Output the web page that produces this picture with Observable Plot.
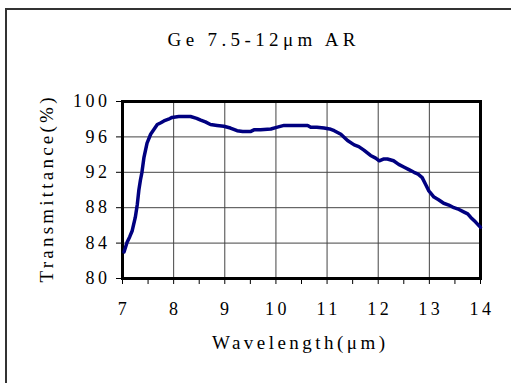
<!DOCTYPE html>
<html>
<head>
<meta charset="utf-8">
<script src="https://cdn.jsdelivr.net/npm/d3@7"></script>
<script src="https://cdn.jsdelivr.net/npm/@observablehq/plot@0.6"></script>
<style>
  html, body { margin: 0; padding: 0; background: #fff; overflow: hidden; width: 511px; height: 383px; }
  #wrap { position: relative; width: 511px; height: 383px; }
  #outer { position: absolute; left: 5px; top: 8px; width: 600px; height: 500px;
           border-left: 2px solid #333; border-top: 2px solid #333; box-sizing: border-box; }
  #chart { position: absolute; left: 0; top: 0; }
  #chart svg [aria-label$="tick label"] text { letter-spacing: 3.5px; }
</style>
</head>
<body>
<div id="wrap"><div id="outer"></div><div id="chart"></div></div>
<script>
const wavelength = [7.03,7.09,7.14,7.19,7.25,7.29,7.32,7.35,7.38,7.42,7.48,7.55,7.62,7.68,7.75,7.81,7.9,7.97,8.1,8.2,8.33,8.45,8.53,8.62,8.72,8.85,8.98,9.11,9.24,9.35,9.5,9.57,9.7,9.9,10.03,10.16,10.3,10.5,10.62,10.68,10.8,10.94,11.05,11.14,11.27,11.4,11.53,11.62,11.72,11.85,11.95,12.02,12.1,12.18,12.3,12.4,12.5,12.6,12.7,12.78,12.86,12.93,12.99,13.09,13.18,13.28,13.38,13.48,13.58,13.68,13.75,13.81,13.9,14.0];
const transmittance = [83.0,84.1,84.7,85.4,86.9,88.4,90.0,91.1,92.0,93.7,95.3,96.3,96.9,97.4,97.6,97.8,98.0,98.2,98.3,98.3,98.3,98.1,97.9,97.7,97.4,97.3,97.2,97.0,96.7,96.6,96.6,96.8,96.8,96.9,97.1,97.3,97.3,97.3,97.3,97.1,97.1,97.0,96.9,96.7,96.3,95.6,95.1,94.9,94.5,93.9,93.6,93.3,93.5,93.5,93.3,92.9,92.6,92.3,92.0,91.8,91.4,90.6,89.9,89.2,88.9,88.5,88.3,88.0,87.8,87.5,87.3,86.9,86.4,85.8];
const xTicks = [7,8,9,10,11,12,13,14];
const xMinorTicks = [7,7.5,8,8.5,9,9.5,10,10.5,11,11.5,12,12.5,13,13.5,14];
const yTicks = [80,84,88,92,96,100];
const titleText = "Ge 7.5-12μm AR";
const xLabel = "Wavelength(μm)";
const yLabel = "Transmittance(%)";

const data = wavelength.map((w, i) => ({w, t: transmittance[i]}));
const SERIF = "Liberation Serif";

const chart = Plot.plot({
  width: 511,
  height: 383,
  marginLeft: 122,
  marginRight: 31,
  marginTop: 101,
  marginBottom: 105,
  style: {fontFamily: SERIF, fontSize: "17px", background: "transparent", color: "#000", overflow: "visible"},
  x: {domain: [7, 14]},
  y: {domain: [80, 100]},
  marks: [
    Plot.gridX(xTicks, {stroke: "#444", strokeOpacity: 1, strokeWidth: 1}),
    Plot.gridY(yTicks, {stroke: "#444", strokeOpacity: 1, strokeWidth: 1}),
    Plot.axisY(yTicks, {tickSize: 6, tickPadding: 6, tickFormat: d => String(d), label: null, stroke: "#000", fontFamily: SERIF, fontSize: 18}),
    Plot.axisX(xMinorTicks, {tickSize: 6, tickFormat: () => "", label: null, stroke: "#000"}),
    Plot.axisX(xTicks, {tickSize: 0, tickPadding: 24, tickFormat: d => String(d), label: null, dx: 1.5, fontFamily: SERIF, fontSize: 18}),
    Plot.frame({stroke: "#000", strokeWidth: 3}),
    Plot.line(data, {x: "w", y: "t", stroke: "#000080", strokeWidth: 3.5, strokeLinejoin: "round", strokeLinecap: "round"}),
    Plot.text([titleText], {frameAnchor: "top", textAnchor: "middle", dx: -40, dy: -69, fontFamily: SERIF, fontSize: 19, fill: "#000"}),
    Plot.text([xLabel], {frameAnchor: "bottom", textAnchor: "middle", dx: -3, dy: 70, fontFamily: SERIF, fontSize: 19, fill: "#000"}),
    Plot.text([yLabel], {frameAnchor: "left", textAnchor: "middle", dx: -76, dy: 0, rotate: -90, fontFamily: SERIF, fontSize: 19, fill: "#000"})
  ]
});
// stretch label texts to the monospaced widths seen in the reference
const widths = {[titleText]: 188, [xLabel]: 173, [yLabel]: 185};
d3.select(chart).selectAll("text").each(function() {
  const t = this.textContent;
  if (widths[t]) { this.setAttribute("textLength", widths[t]); this.setAttribute("lengthAdjust", "spacing"); }
});
document.getElementById("chart").appendChild(chart);
</script>
</body>
</html>
